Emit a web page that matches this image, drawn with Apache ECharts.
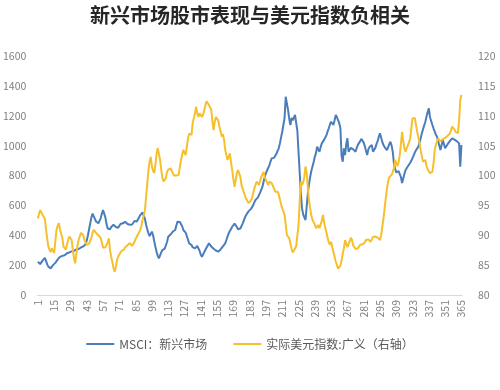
<!DOCTYPE html>
<html>
<head>
<meta charset="utf-8">
<script src="https://cdn.jsdelivr.net/npm/echarts@6/dist/echarts.min.js"></script>
<style>html,body{margin:0;padding:0;background:#fff}#c{width:500px;height:390px}</style>
</head>
<body>
<div id="c"></div>
<script>
var titleText = '新兴市场股市表现与美元指数负相关';
var seriesNames = ['MSCI：新兴市场', '实际美元指数:广义（右轴）'];
var categories = [];
for (var k = 1; k <= 365; k++) categories.push(String(k));

var msci = [
223,215,207,218,230,240,248,228,205,190,
182,178,190,200,208,215,228,238,248,255,
258,262,260,266,270,280,290,285,278,292,
298,295,300,305,302,308,310,318,315,325,
332,340,365,400,440,480,520,545,540,510,
492,484,480,490,515,545,569,560,520,475,
445,435,440,455,468,470,462,455,448,450,
462,475,468,480,488,490,482,475,468,470,
478,472,485,495,500,492,505,520,535,545,
552,557,510,470,440,413,395,410,424,400,
360,323,290,262,245,265,285,301,295,310,
323,355,390,398,405,413,425,430,435,465,
491,495,488,491,460,435,428,418,413,370,
346,340,335,320,318,312,320,328,323,295,
270,256,272,288,301,318,332,346,335,325,
318,310,302,298,292,290,296,305,312,325,
335,346,368,392,413,428,442,457,468,478,
478,455,440,435,445,457,478,500,520,535,
548,560,568,575,580,600,620,636,645,652,
662,685,705,725,760,790,815,835,848,870,
895,915,922,918,926,945,965,982,1015,1055,
1093,1140,1183,1327,1280,1240,1180,1138,1185,1170,
1160,1205,1150,1100,959,820,680,580,540,520,
502,590,680,740,790,830,860,890,925,950,
993,975,959,990,1015,1025,1040,1049,1070,1095,
1116,1140,1160,1150,1138,1170,1205,1190,1170,1150,
1116,930,892,982,937,1010,1049,959,970,985,
993,975,965,959,985,1005,1015,1030,1045,1040,
1020,995,965,937,975,990,1000,1004,960,955,
985,1010,1030,1060,1082,1055,1025,1004,990,978,
970,990,1010,1026,1000,959,880,845,820,814,
830,825,790,750,760,810,837,850,862,872,
885,900,910,935,955,970,980,993,1020,1050,
1082,1110,1135,1160,1195,1225,1250,1190,1165,1140,
1116,1095,1075,1060,1030,1000,970,1005,1037,1010,
982,995,1008,1015,1030,1040,1049,1045,1040,1037,
1030,1020,1015,859,1004
];

var usd = [
92.8,93.6,94.2,93.8,93.4,93.6,92.8,91.0,89.4,88.1,
87.6,87.2,87.8,87.5,87.0,89.0,90.9,91.6,92.0,91.0,
90.2,89.6,88.1,87.8,87.6,87.5,89.2,89.8,89.5,89.2,
87.6,86.2,85.3,86.8,88.2,89.2,89.8,90.4,90.6,90.0,
89.2,88.8,88.4,88.5,88.6,88.7,89.6,90.4,90.9,90.6,
90.4,90.3,90.0,89.7,89.5,88.8,87.9,87.8,88.0,88.1,
88.8,89.5,87.5,86.4,85.5,84.5,83.9,84.6,85.9,86.4,
86.8,87.0,87.4,87.2,87.6,88.0,87.9,88.3,88.5,88.7,
88.6,88.2,88.4,88.9,89.4,89.8,90.1,90.5,90.9,91.6,
92.6,93.3,94.2,96.4,98.6,100.9,102.4,103.1,101.5,100.8,
100.4,101.8,103.6,104.6,103.6,102.6,101.0,99.6,99.0,98.7,
99.6,100.6,101.0,101.1,101.2,100.8,100.4,100.0,99.8,100.0,
100.2,100.1,101.4,102.6,103.5,104.3,103.8,103.4,104.8,106.2,
107.0,107.3,106.8,108.7,109.6,110.4,111.5,110.4,109.8,110.4,
110.6,109.8,110.2,110.9,111.8,112.4,112.3,111.8,111.4,111.0,
109.0,107.6,109.0,109.8,110.1,109.2,108.2,107.4,106.5,106.9,
106.0,104.3,103.4,102.6,103.2,103.7,102.2,100.9,99.4,98.1,
99.2,100.4,100.9,101.2,99.8,98.4,97.8,97.2,96.6,96.1,
95.8,95.4,95.3,95.8,96.2,97.0,97.8,98.4,99.0,98.8,
98.4,99.1,99.8,100.2,100.6,99.8,99.2,98.8,98.4,99.0,
99.2,98.7,98.4,97.8,97.3,97.5,97.3,96.8,96.0,95.2,
94.5,94.0,93.4,91.8,90.0,89.8,89.5,88.6,87.8,87.1,
87.3,87.8,88.2,88.4,91.7,95.6,99.0,98.4,98.8,99.8,
101.5,100.4,98.0,95.8,94.5,93.3,92.6,92.2,91.8,91.2,
91.5,91.7,91.2,90.9,92.4,93.4,92.2,91.2,90.4,89.6,
88.8,88.4,88.9,88.0,87.2,86.4,85.6,85.0,84.4,84.2,
84.9,85.8,86.9,87.8,89.2,88.6,88.0,88.2,89.0,89.6,
89.2,88.3,88.0,87.7,87.5,87.8,88.1,88.4,88.2,88.5,
88.4,88.8,89.2,89.5,89.3,89.0,88.9,89.3,89.7,90.0,
89.8,89.5,89.6,89.4,89.2,90.0,91.4,92.8,94.5,96.2,
97.8,99.0,99.7,99.9,100.1,100.6,101.2,102.6,102.4,101.6,
102.2,103.4,105.2,107.3,105.8,104.6,104.0,104.6,105.1,105.6,
106.2,108.0,109.6,109.9,109.6,108.4,107.3,106.4,105.4,104.2,
103.2,102.3,102.0,102.6,101.6,101.0,100.7,100.4,100.5,100.6,
102.0,104.2,105.1,105.7,106.2,106.0,105.7,105.9,106.1,106.2,
106.3,106.5,106.6,106.8,107.0,107.5,108.2,108.2,107.7,107.3,
107.2,107.1,109.2,112.6,113.5
];

var leftTicks = {min: 0, max: 1600, interval: 200};
var rightTicks = {min: 80, max: 120, interval: 5};

var font = "'Noto Sans CJK SC', 'Noto Sans', sans-serif";
var chart = echarts.init(document.getElementById('c'), null, {renderer: 'canvas'});
chart.setOption({
  animation: false,
  backgroundColor: '#ffffff',
  textStyle: {fontFamily: font},
  title: {
    text: titleText, left: 'center', top: 0,
    textStyle: {fontSize: 20, fontWeight: 'bold', color: '#262626', fontFamily: font}
  },
  legend: {
    bottom: 35, left: 'center', itemWidth: 28, itemHeight: 2, itemGap: 26,
    icon: 'rect',
    textStyle: {fontSize: 12, color: '#595959', fontFamily: font},
    data: seriesNames
  },
  grid: {left: 37, right: 38, top: 56, bottom: 95, containLabel: false},
  xAxis: {
    type: 'category', data: categories, boundaryGap: true,
    axisLine: {lineStyle: {color: '#d9d9d9'}},
    axisTick: {show: false},
    axisLabel: {interval: 13, rotate: 90, fontSize: 10.5, color: '#7f7f7f', margin: 5, fontFamily: font}
  },
  yAxis: [{
    type: 'value', min: leftTicks.min, max: leftTicks.max, interval: leftTicks.interval,
    splitLine: {show: false}, axisLine: {show: false}, axisTick: {show: false},
    axisLabel: {fontSize: 10.5, color: '#7f7f7f', margin: 11, fontFamily: font,
      formatter: function (v) { return String(v); }}
  }, {
    type: 'value', min: rightTicks.min, max: rightTicks.max, interval: rightTicks.interval,
    position: 'right',
    splitLine: {show: false}, axisLine: {show: false}, axisTick: {show: false},
    axisLabel: {fontSize: 10.5, color: '#7f7f7f', margin: 16, fontFamily: font,
      formatter: function (v) { return String(v); }}
  }],
  series: [{
    name: seriesNames[0], type: 'line', data: msci, yAxisIndex: 0,
    showSymbol: false, symbol: 'none',
    lineStyle: {width: 2, color: '#4a7ebb'}, itemStyle: {color: '#4a7ebb'}
  }, {
    name: seriesNames[1], type: 'line', data: usd, yAxisIndex: 1,
    showSymbol: false, symbol: 'none',
    lineStyle: {width: 2, color: '#f5c02c'}, itemStyle: {color: '#f5c02c'}
  }]
});
</script>
</body>
</html>
